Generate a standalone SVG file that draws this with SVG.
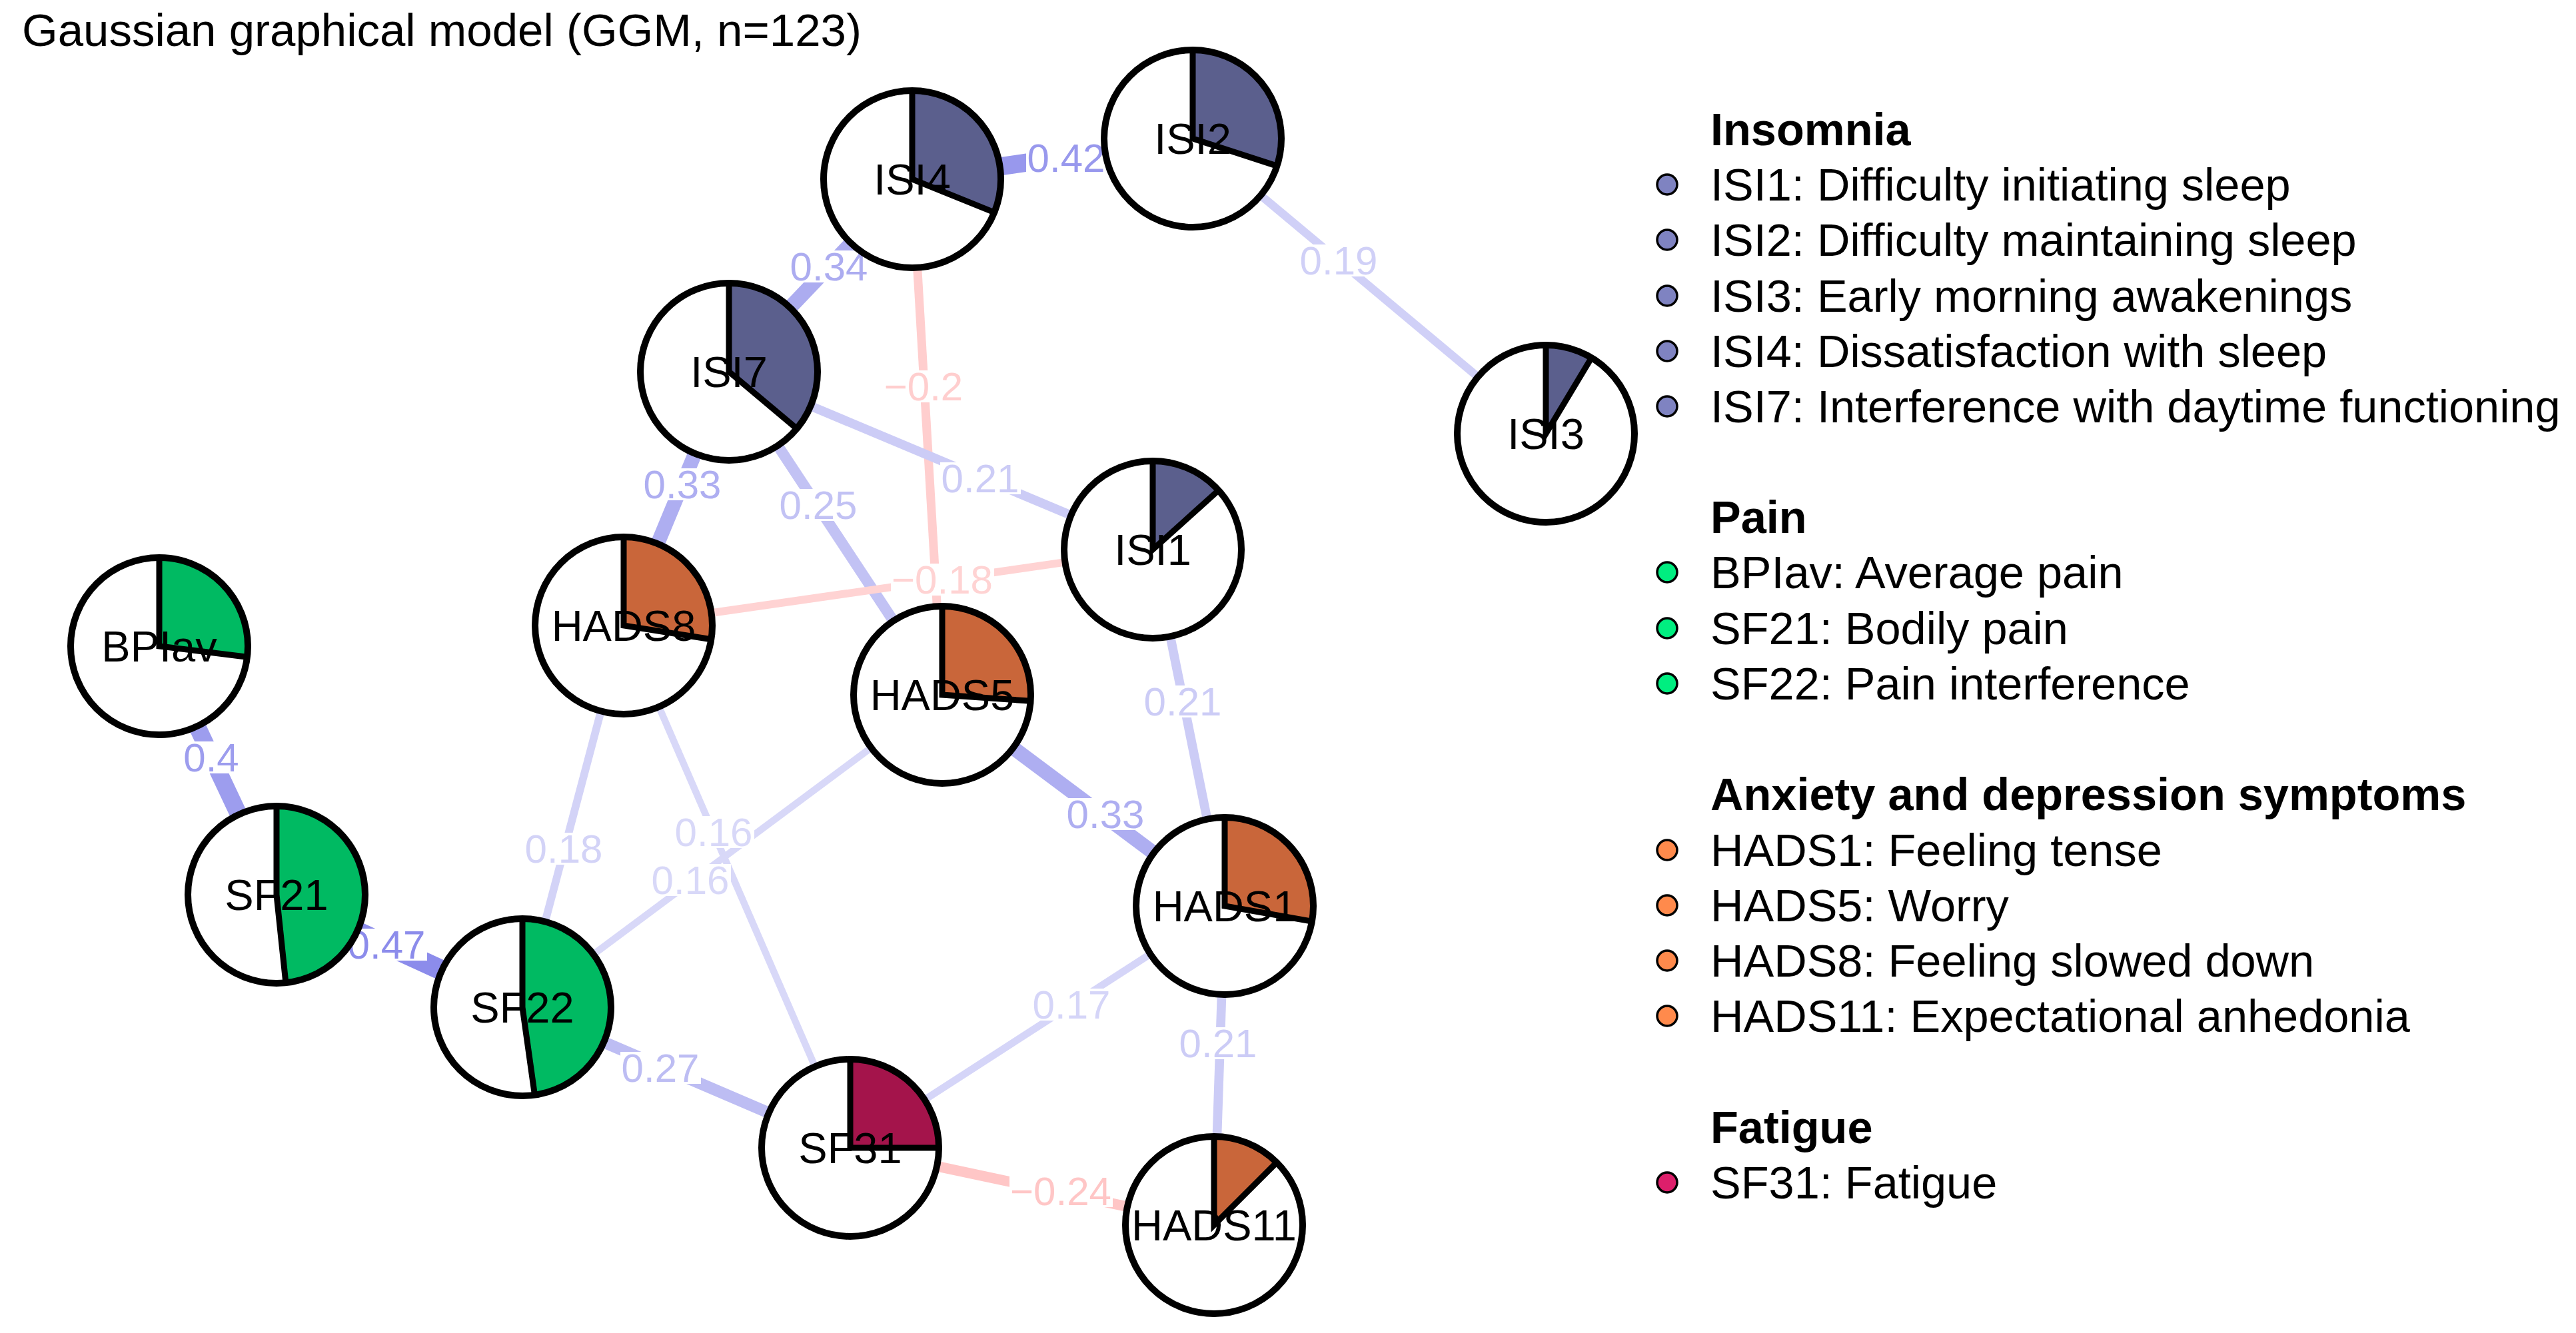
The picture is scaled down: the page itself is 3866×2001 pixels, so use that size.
<svg xmlns="http://www.w3.org/2000/svg" width="3866" height="2001" viewBox="0 0 3866 2001">
<defs>
<style>
text{font-family:"Liberation Sans",Arial,sans-serif}
.title{font-size:69px;fill:#000}
.edge{fill:none;stroke-linecap:butt}
.elbg{fill:#fff}
.el{font-size:60px;text-anchor:middle}
.nbg{fill:#fff}
.nring{fill:none;stroke:#000;stroke-width:10}
.rad{fill:none;stroke:#000;stroke-width:9;stroke-linejoin:miter}
.nlab{font-size:65px;text-anchor:middle;fill:#000}
.f-isi{fill:#5B5F8D}
.f-pain{fill:#00BA62}
.f-hads{fill:#C9663A}
.f-fat{fill:#A4144B}
.lh{font-size:68.5px;font-weight:bold;fill:#000}
.lt{font-size:68.5px;fill:#000}
.bul{stroke:#000;stroke-width:3.5}
.b-isi{fill:#7F83C1}
.b-pain{fill:#00EE80}
.b-hads{fill:#FF8A4C}
.b-fat{fill:#DD1F6B}
</style>
</defs>
<rect x="0" y="0" width="3866" height="2001" fill="#fff"/>
<text class="title" x="33" y="69">Gaussian graphical model (GGM, n=123)</text>

<g id="connectors">
<g id="edge-lines">
<line class="edge" x1="1369" y1="269" x2="1790" y2="208" stroke="#9898ED" stroke-width="27.3"/>
<line class="edge" x1="1369" y1="269" x2="1094" y2="558" stroke="#ACACF0" stroke-width="22.1"/>
<line class="edge" x1="1369" y1="269" x2="1414" y2="1043" stroke="#FFCECE" stroke-width="13"/>
<line class="edge" x1="1790" y1="208" x2="2320" y2="651" stroke="#D0D0F7" stroke-width="12.4"/>
<line class="edge" x1="1094" y1="558" x2="1730" y2="825" stroke="#CCCCF6" stroke-width="13.7"/>
<line class="edge" x1="1094" y1="558" x2="936" y2="939" stroke="#AEAEF1" stroke-width="21.5"/>
<line class="edge" x1="1094" y1="558" x2="1414" y2="1043" stroke="#C2C2F4" stroke-width="16.3"/>
<line class="edge" x1="936" y1="939" x2="1730" y2="825" stroke="#FFD3D3" stroke-width="11.7"/>
<line class="edge" x1="1730" y1="825" x2="1838" y2="1360" stroke="#CCCCF6" stroke-width="13.7"/>
<line class="edge" x1="1414" y1="1043" x2="1838" y2="1360" stroke="#AEAEF1" stroke-width="21.5"/>
<line class="edge" x1="239" y1="970" x2="415" y2="1343" stroke="#9D9DEE" stroke-width="26"/>
<line class="edge" x1="415" y1="1343" x2="784" y2="1512" stroke="#8C8CEB" stroke-width="30.5"/>
<line class="edge" x1="936" y1="939" x2="784" y2="1512" stroke="#D3D3F7" stroke-width="11.7"/>
<line class="edge" x1="936" y1="939" x2="1276" y2="1723" stroke="#D8D8F8" stroke-width="10.4"/>
<line class="edge" x1="1414" y1="1043" x2="784" y2="1512" stroke="#D8D8F8" stroke-width="10.4"/>
<line class="edge" x1="784" y1="1512" x2="1276" y2="1723" stroke="#BDBDF3" stroke-width="17.6"/>
<line class="edge" x1="1276" y1="1723" x2="1838" y2="1360" stroke="#D5D5F8" stroke-width="11"/>
<line class="edge" x1="1838" y1="1360" x2="1822" y2="1839" stroke="#CCCCF6" stroke-width="13.7"/>
<line class="edge" x1="1276" y1="1723" x2="1822" y2="1839" stroke="#FFC6C6" stroke-width="15.6"/>
</g>
<g id="edge-labels">
<rect class="elbg" x="1540" y="213" width="121" height="48"/><text class="el" x="1600" y="258" fill="#9898ED">0.42</text>
<rect class="elbg" x="1184" y="376" width="121" height="48"/><text class="el" x="1244" y="421" fill="#ACACF0">0.34</text>
<rect class="elbg" x="1325" y="556" width="123" height="48"/><text class="el" x="1386" y="601" fill="#FFCECE">−0.2</text>
<rect class="elbg" x="1949" y="367" width="121" height="48"/><text class="el" x="2009" y="412" fill="#D0D0F7">0.19</text>
<rect class="elbg" x="1411" y="694" width="121" height="48"/><text class="el" x="1471" y="739" fill="#CCCCF6">0.21</text>
<rect class="elbg" x="964" y="703" width="121" height="48"/><text class="el" x="1024" y="748" fill="#AEAEF1">0.33</text>
<rect class="elbg" x="1168" y="734" width="121" height="48"/><text class="el" x="1228" y="779" fill="#C2C2F4">0.25</text>
<rect class="elbg" x="1337" y="846" width="155" height="48"/><text class="el" x="1414" y="891" fill="#FFD3D3">−0.18</text>
<rect class="elbg" x="1715" y="1029" width="121" height="48"/><text class="el" x="1775" y="1074" fill="#CCCCF6">0.21</text>
<rect class="elbg" x="1599" y="1198" width="121" height="48"/><text class="el" x="1659" y="1243" fill="#AEAEF1">0.33</text>
<rect class="elbg" x="273" y="1113" width="88" height="48"/><text class="el" x="317" y="1158" fill="#9D9DEE">0.4</text>
<rect class="elbg" x="520" y="1394" width="121" height="48"/><text class="el" x="580" y="1439" fill="#8C8CEB">0.47</text>
<rect class="elbg" x="786" y="1250" width="121" height="48"/><text class="el" x="846" y="1295" fill="#D3D3F7">0.18</text>
<rect class="elbg" x="1011" y="1225" width="121" height="48"/><text class="el" x="1071" y="1270" fill="#D8D8F8">0.16</text>
<rect class="elbg" x="976" y="1297" width="121" height="48"/><text class="el" x="1036" y="1342" fill="#D8D8F8">0.16</text>
<rect class="elbg" x="931" y="1579" width="121" height="48"/><text class="el" x="991" y="1624" fill="#BDBDF3">0.27</text>
<rect class="elbg" x="1548" y="1484" width="121" height="48"/><text class="el" x="1608" y="1529" fill="#D5D5F8">0.17</text>
<rect class="elbg" x="1768" y="1542" width="121" height="48"/><text class="el" x="1828" y="1587" fill="#CCCCF6">0.21</text>
<rect class="elbg" x="1515" y="1764" width="155" height="48"/><text class="el" x="1592" y="1809" fill="#FFC6C6">−0.24</text>
</g>
</g>

<g id="nodes">
<g id="node-ISI4">
<circle class="nbg" cx="1369" cy="269" r="133"/>
<path class="f-isi" d="M1369,136 A133,133 0 0 1 1492.3,318.8 L1369,269 Z"/>
<path class="rad" d="M1369,136 L1369,269 L1492.3,318.8"/>
<circle class="nring" cx="1369" cy="269" r="133"/>
<text class="nlab" x="1369" y="292">ISI4</text>
</g>
<g id="node-ISI2">
<circle class="nbg" cx="1790" cy="208" r="133"/>
<path class="f-isi" d="M1790,75 A133,133 0 0 1 1916.5,249.1 L1790,208 Z"/>
<path class="rad" d="M1790,75 L1790,208 L1916.5,249.1"/>
<circle class="nring" cx="1790" cy="208" r="133"/>
<text class="nlab" x="1790" y="231">ISI2</text>
</g>
<g id="node-ISI7">
<circle class="nbg" cx="1094" cy="558" r="133"/>
<path class="f-isi" d="M1094,425 A133,133 0 0 1 1195.9,643.5 L1094,558 Z"/>
<path class="rad" d="M1094,425 L1094,558 L1195.9,643.5"/>
<circle class="nring" cx="1094" cy="558" r="133"/>
<text class="nlab" x="1094" y="581">ISI7</text>
</g>
<g id="node-ISI3">
<circle class="nbg" cx="2320" cy="651" r="133"/>
<path class="f-isi" d="M2320,518 A133,133 0 0 1 2388.5,537 L2320,651 Z"/>
<path class="rad" d="M2320,518 L2320,651 L2388.5,537"/>
<circle class="nring" cx="2320" cy="651" r="133"/>
<text class="nlab" x="2320" y="674">ISI3</text>
</g>
<g id="node-ISI1">
<circle class="nbg" cx="1730" cy="825" r="133"/>
<path class="f-isi" d="M1730,692 A133,133 0 0 1 1828.8,736 L1730,825 Z"/>
<path class="rad" d="M1730,692 L1730,825 L1828.8,736"/>
<circle class="nring" cx="1730" cy="825" r="133"/>
<text class="nlab" x="1730" y="848">ISI1</text>
</g>
<g id="node-HADS8">
<circle class="nbg" cx="936" cy="939" r="133"/>
<path class="f-hads" d="M936,806 A133,133 0 0 1 1067.4,959.8 L936,939 Z"/>
<path class="rad" d="M936,806 L936,939 L1067.4,959.8"/>
<circle class="nring" cx="936" cy="939" r="133"/>
<text class="nlab" x="936" y="962">HADS8</text>
</g>
<g id="node-HADS5">
<circle class="nbg" cx="1414" cy="1043" r="133"/>
<path class="f-hads" d="M1414,910 A133,133 0 0 1 1546.7,1052.3 L1414,1043 Z"/>
<path class="rad" d="M1414,910 L1414,1043 L1546.7,1052.3"/>
<circle class="nring" cx="1414" cy="1043" r="133"/>
<text class="nlab" x="1414" y="1066">HADS5</text>
</g>
<g id="node-BPIav">
<circle class="nbg" cx="239" cy="970" r="133"/>
<path class="f-pain" d="M239,837 A133,133 0 0 1 371,986.2 L239,970 Z"/>
<path class="rad" d="M239,837 L239,970 L371,986.2"/>
<circle class="nring" cx="239" cy="970" r="133"/>
<text class="nlab" x="239" y="993">BPIav</text>
</g>
<g id="node-HADS1">
<circle class="nbg" cx="1838" cy="1360" r="133"/>
<path class="f-hads" d="M1838,1227 A133,133 0 0 1 1969,1383.1 L1838,1360 Z"/>
<path class="rad" d="M1838,1227 L1838,1360 L1969,1383.1"/>
<circle class="nring" cx="1838" cy="1360" r="133"/>
<text class="nlab" x="1838" y="1383">HADS1</text>
</g>
<g id="node-SF21">
<circle class="nbg" cx="415" cy="1343" r="133"/>
<path class="f-pain" d="M415,1210 A133,133 0 0 1 428.9,1475.3 L415,1343 Z"/>
<path class="rad" d="M415,1210 L415,1343 L428.9,1475.3"/>
<circle class="nring" cx="415" cy="1343" r="133"/>
<text class="nlab" x="415" y="1366">SF21</text>
</g>
<g id="node-SF22">
<circle class="nbg" cx="784" cy="1512" r="133"/>
<path class="f-pain" d="M784,1379 A133,133 0 0 1 802.5,1643.7 L784,1512 Z"/>
<path class="rad" d="M784,1379 L784,1512 L802.5,1643.7"/>
<circle class="nring" cx="784" cy="1512" r="133"/>
<text class="nlab" x="784" y="1535">SF22</text>
</g>
<g id="node-SF31">
<circle class="nbg" cx="1276" cy="1723" r="133"/>
<path class="f-fat" d="M1276,1590 A133,133 0 0 1 1409,1723 L1276,1723 Z"/>
<path class="rad" d="M1276,1590 L1276,1723 L1409,1723"/>
<circle class="nring" cx="1276" cy="1723" r="133"/>
<text class="nlab" x="1276" y="1746">SF31</text>
</g>
<g id="node-HADS11">
<circle class="nbg" cx="1822" cy="1839" r="133"/>
<path class="f-hads" d="M1822,1706 A133,133 0 0 1 1916,1745 L1822,1839 Z"/>
<path class="rad" d="M1822,1706 L1822,1839 L1916,1745"/>
<circle class="nring" cx="1822" cy="1839" r="133"/>
<text class="nlab" x="1822" y="1862">HADS11</text>
</g>
</g>

<g id="legend">
<text class="lh" x="2567" y="218">Insomnia</text>
<circle class="bul b-isi" cx="2502" cy="277" r="15"/><text class="lt" x="2567" y="301">ISI1: Difficulty initiating sleep</text>
<circle class="bul b-isi" cx="2502" cy="360" r="15"/><text class="lt" x="2567" y="384">ISI2: Difficulty maintaining sleep</text>
<circle class="bul b-isi" cx="2502" cy="444" r="15"/><text class="lt" x="2567" y="468">ISI3: Early morning awakenings</text>
<circle class="bul b-isi" cx="2502" cy="527" r="15"/><text class="lt" x="2567" y="551">ISI4: Dissatisfaction with sleep</text>
<circle class="bul b-isi" cx="2502" cy="610" r="15"/><text class="lt" x="2567" y="634">ISI7: Interference with daytime functioning</text>
<text class="lh" x="2567" y="800">Pain</text>
<circle class="bul b-pain" cx="2502" cy="859" r="15"/><text class="lt" x="2567" y="883">BPIav: Average pain</text>
<circle class="bul b-pain" cx="2502" cy="943" r="15"/><text class="lt" x="2567" y="967">SF21: Bodily pain</text>
<circle class="bul b-pain" cx="2502" cy="1026" r="15"/><text class="lt" x="2567" y="1050">SF22: Pain interference</text>
<text class="lh" x="2567" y="1216">Anxiety and depression symptoms</text>
<circle class="bul b-hads" cx="2502" cy="1276" r="15"/><text class="lt" x="2567" y="1300">HADS1: Feeling tense</text>
<circle class="bul b-hads" cx="2502" cy="1359" r="15"/><text class="lt" x="2567" y="1383">HADS5: Worry</text>
<circle class="bul b-hads" cx="2502" cy="1442" r="15"/><text class="lt" x="2567" y="1466">HADS8: Feeling slowed down</text>
<circle class="bul b-hads" cx="2502" cy="1525" r="15"/><text class="lt" x="2567" y="1549">HADS11: Expectational anhedonia</text>
<text class="lh" x="2567" y="1716">Fatigue</text>
<circle class="bul b-fat" cx="2502" cy="1775" r="15"/><text class="lt" x="2567" y="1799">SF31: Fatigue</text>
</g>
</svg>
